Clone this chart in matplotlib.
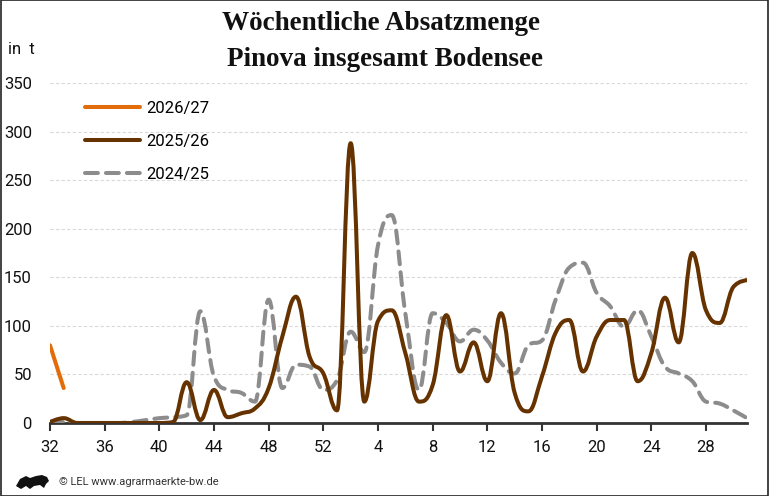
import matplotlib
matplotlib.use("Agg")
import matplotlib.pyplot as plt
from matplotlib.path import Path
from matplotlib.patches import PathPatch, Rectangle, Polygon
from matplotlib.lines import Line2D
import numpy as np

# ---------------- data ----------------
weeks = list(range(32, 53)) + list(range(1, 32))
tick_weeks = [32, 36, 40, 44, 48, 52, 4, 8, 12, 16, 20, 24, 28]

s2026 = [80, 36]
s2025 = [1, 5, 0, 0, 0, 0, 0, 0, 0, 1, 42, 3, 34, 6, 10, 15, 36, 89, 130, 68,
         51, 13, 288, 22, 105, 116, 72, 22, 39, 111, 53, 83, 43, 113, 31, 12,
         48, 93, 106, 53, 89, 106, 106, 43, 72, 129, 83, 175, 116, 103, 140, 147]
s2024 = [1, 1, 0, 0, 0, 0, 1, 3, 5, 6, 8, 115, 48, 34, 31, 22, 127, 36, 60, 58,
         34, 44, 94, 73, 183, 214, 113, 34, 113, 103, 84, 96, 85, 62, 51, 80,
         85, 127, 160, 165, 134, 120, 99, 116, 89, 58, 51, 43, 22, 20, 13, 5]

series_names = ["2026/27", "2025/26", "2024/25"]
colors = {"2026/27": "#E36C0A", "2025/26": "#663300", "2024/25": "#8C8C8C"}

SANS = ["Roboto", "DejaVu Sans"]


def spline_path(xs, ys, smoothing=1.5):
    """Highcharts-style spline as a cubic Bezier path."""
    n = len(xs)
    verts = [(xs[0], ys[0])]
    codes = [Path.MOVETO]
    lc = [None] * n
    rc = [None] * n
    denom = smoothing + 1
    for i in range(1, n - 1):
        px, py = xs[i], ys[i]
        lx, ly = xs[i - 1], ys[i - 1]
        nx, ny = xs[i + 1], ys[i + 1]
        lcx = (smoothing * px + lx) / denom
        lcy = (smoothing * py + ly) / denom
        rcx = (smoothing * px + nx) / denom
        rcy = (smoothing * py + ny) / denom
        corr = 0
        if rcx != lcx:
            corr = (rcy - lcy) * (rcx - px) / (rcx - lcx) + py - rcy
        lcy += corr
        rcy += corr
        if lcy > ly and lcy > py:
            lcy = max(ly, py)
            rcy = 2 * py - lcy
        elif lcy < ly and lcy < py:
            lcy = min(ly, py)
            rcy = 2 * py - lcy
        if rcy > ny and rcy > py:
            rcy = max(ny, py)
            lcy = 2 * py - rcy
        elif rcy < ny and rcy < py:
            rcy = min(ny, py)
            lcy = 2 * py - rcy
        lc[i] = (lcx, lcy)
        rc[i] = (rcx, rcy)
    for i in range(1, n):
        c1 = rc[i - 1] if rc[i - 1] is not None else (xs[i - 1], ys[i - 1])
        c2 = lc[i] if lc[i] is not None else (xs[i], ys[i])
        verts += [c1, c2, (xs[i], ys[i])]
        codes += [Path.CURVE4] * 3
    return Path(verts, codes)


W, H = 769, 496
fig = plt.figure(figsize=(W / 100, H / 100), dpi=100)
fig.patch.set_facecolor("white")

L, R, T, B = 50, 747, 83, 423
ax = fig.add_axes([L / W, 1 - B / H, (R - L) / W, (B - T) / H])
ax.set_xlim(0, len(weeks) - 1)
ax.set_ylim(0, 350)
for sp in ["top", "right", "left"]:
    ax.spines[sp].set_visible(False)
ax.spines["bottom"].set_color("#333333")
ax.spines["bottom"].set_linewidth(2)

xpos = [weeks.index(w) for w in tick_weeks]
ax.set_xticks(xpos)
ax.set_xticklabels([str(w) for w in tick_weeks])
ax.set_yticks([0, 50, 100, 150, 200, 250, 300, 350])
ax.tick_params(axis="x", length=6, width=1.5, color="#333333", pad=6,
               labelsize=12, labelcolor="#111111")
ax.tick_params(axis="y", length=0, pad=13, labelsize=12, labelcolor="#111111")
for lab in ax.get_xticklabels() + ax.get_yticklabels():
    lab.set_family(SANS)
ax.grid(axis="y", color="#d9d9d9", linestyle=(0, (3, 2)), linewidth=0.8)
ax.set_axisbelow(True)

data = {"2026/27": s2026, "2025/26": s2025, "2024/25": s2024}
styles = {"2026/27": "-", "2025/26": "-", "2024/25": (0, (3.2, 2.0))}
zorder = {"2026/27": 5, "2025/26": 4, "2024/25": 3}
for name in series_names:
    ys = data[name]
    xs = list(range(len(ys)))
    p = spline_path(xs, ys)
    patch = PathPatch(p, facecolor="none", edgecolor=colors[name], lw=2.9,
                      linestyle=styles[name], capstyle="round",
                      joinstyle="round", zorder=zorder[name])
    ax.add_patch(patch)

handles = [Line2D([0], [0], color=colors[n], lw=2.9, ls=styles[n],
                  solid_capstyle="round", dash_capstyle="round")
           for n in series_names]
leg = ax.legend(handles, series_names, loc="upper left",
                bbox_to_anchor=(0.036, 0.976), frameon=False, handlelength=3.3,
                handletextpad=0.38, labelspacing=1.08, borderaxespad=0.2,
                prop={"family": SANS, "size": 12})

fig.text(381 / W, 1 - 24 / H, "Wöchentliche Absatzmenge", ha="center", va="center",
         family=["Liberation Serif", "DejaVu Serif"], weight="bold", fontsize=19.5,
         color="#111111")
fig.text(385 / W, 1 - 60 / H, "Pinova insgesamt Bodensee", ha="center", va="center",
         family=["Liberation Serif", "DejaVu Serif"], weight="bold", fontsize=19.5,
         color="#111111")
fig.text(8 / W, 1 - 49 / H, "in  t", ha="left", va="center",
         family=SANS, fontsize=12, color="#111111")
fig.text(59 / W, 1 - 482 / H, "© LEL www.agrarmaerkte-bw.de", ha="left", va="center",
         family=SANS, fontsize=8, color="#333333")

# small lion-like logo
lion = np.array([[16, 486], [20, 479], [26, 476], [30, 478], [36, 476], [42, 475],
                 [47, 477], [49, 481], [46, 484], [44, 488], [40, 485], [34, 486],
                 [30, 489], [26, 486], [21, 489]], dtype=float)
lion[:, 0] /= W
lion[:, 1] = 1 - lion[:, 1] / H
fig.patches.append(Polygon(lion, closed=True, transform=fig.transFigure,
                           facecolor="#111111", edgecolor="none"))

fig.patches.append(Rectangle((0.0007, 0.001), 0.9986, 0.998, transform=fig.transFigure,
                             fill=False, edgecolor="#222222", lw=1.2))

fig.savefig("out.png", dpi=100)
